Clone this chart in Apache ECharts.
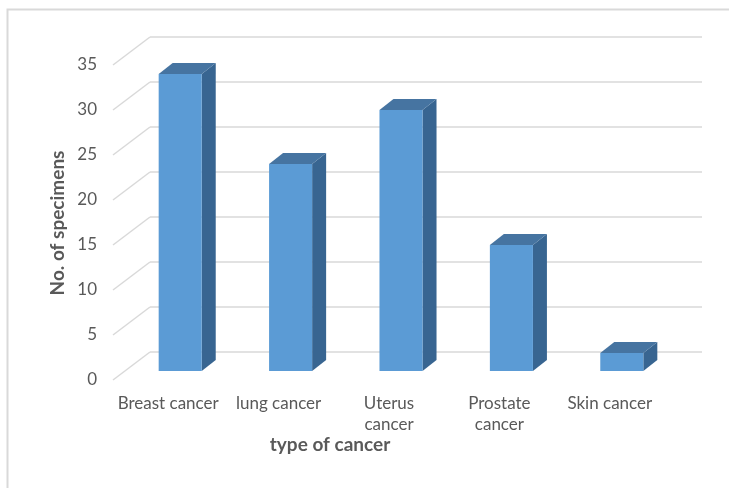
<!DOCTYPE html>
<html>
<head>
<meta charset="utf-8">
<script src="https://cdn.jsdelivr.net/npm/echarts@6/dist/echarts.min.js"></script>
<style>
  html, body { margin: 0; padding: 0; background: #ffffff; }
  #chart { width: 729px; height: 488px; }
</style>
</head>
<body>
<div id="chart"></div>
<script>
// Specimens collected per cancer type
const categories = ['Breast cancer', 'lung cancer', 'Uterus cancer', 'Prostate cancer', 'Skin cancer'];
const specimens = [33, 23, 29, 14, 2];
const yTicks = [0, 5, 10, 15, 20, 25, 30, 35];

// Pseudo-3D geometry (pixels): bars sit a third of the way into the floor depth
const FRONT_TO_BAR = [12, -9];   // front plane -> bar front face
const BAR_TO_BACK = [25, -19];   // bar front face -> back wall
const BAR_DEPTH = [14, -11];     // bar thickness seen in perspective

const FACE = '#5b9bd5', TOP = '#4674a1', SIDE = '#386591';
const GRID_COLOR = '#d9d9d9';
const TEXT = '#595959';
const FONT = 'Lato, "Open Sans", sans-serif';

// Labels spelled over two lines where they wrap under the bar
const wrapped = { 'Uterus cancer': 'Uterus\ncancer', 'Prostate cancer': 'Prostate\ncancer' };

const chart = echarts.init(document.getElementById('chart'), null, { renderer: 'canvas' });

function gridWalls(params, api) {
  const cs = params.coordSys;
  const y = api.coord([0, api.value(1)])[1];
  const x0 = cs.x, x1 = cs.x + cs.width;
  const style = { stroke: GRID_COLOR, lineWidth: 1.5, fill: null };
  return {
    type: 'group',
    children: [
      { type: 'line', shape: { x1: x0 - FRONT_TO_BAR[0], y1: y - FRONT_TO_BAR[1], x2: x0 + BAR_TO_BACK[0], y2: y + BAR_TO_BACK[1] }, style: style },
      { type: 'line', shape: { x1: x0 + BAR_TO_BACK[0], y1: y + BAR_TO_BACK[1], x2: x1 + BAR_TO_BACK[0], y2: y + BAR_TO_BACK[1] }, style: style }
    ]
  };
}

function bar3d(params, api) {
  const idx = api.value(0);
  const top = api.coord([idx, api.value(1)]);
  const base = api.coord([idx, 0]);
  const w = api.size([1, 0])[0] * 0.39;
  const xl = top[0] - w / 2, xr = top[0] + w / 2;
  const yt = top[1], yb = base[1];
  const dx = BAR_DEPTH[0], dy = BAR_DEPTH[1];
  return {
    type: 'group',
    children: [
      { type: 'polygon', shape: { points: [[xr, yt], [xr + dx, yt + dy], [xr + dx, yb + dy], [xr, yb]] }, style: { fill: SIDE } },
      { type: 'polygon', shape: { points: [[xl, yt], [xl + dx, yt + dy], [xr + dx, yt + dy], [xr, yt]] }, style: { fill: TOP } },
      { type: 'rect', shape: { x: xl, y: yt, width: w, height: yb - yt }, style: { fill: FACE } }
    ]
  };
}

chart.setOption({
  animation: false,
  backgroundColor: '#ffffff',
  grid: [
    // plane of the bars' front faces
    { left: 125, top: 56, width: 552, height: 315 },
    // front edge of the floor, where the axis labels sit
    { left: 113, top: 65, width: 552, height: 315 }
  ],
  xAxis: [
    { type: 'category', data: categories, gridIndex: 0, show: false },
    {
      type: 'category', data: categories, gridIndex: 1,
      axisLine: { show: false }, axisTick: { show: false },
      axisLabel: {
        interval: 0, margin: 13, color: TEXT, fontFamily: FONT, fontSize: 17, lineHeight: 21,
        formatter: function (v) { return wrapped[v] || v; }
      }
    }
  ],
  yAxis: [
    { type: 'value', gridIndex: 0, min: 0, max: 35, interval: 5, show: false },
    {
      type: 'value', gridIndex: 1, min: 0, max: 35, interval: 5,
      axisLine: { show: false }, axisTick: { show: false }, splitLine: { show: false },
      axisLabel: { margin: 16, color: TEXT, fontFamily: FONT, fontSize: 17 }
    }
  ],
  series: [
    {
      type: 'custom', xAxisIndex: 0, yAxisIndex: 0, z: 1,
      renderItem: gridWalls,
      data: yTicks.map(function (v) { return [0, v]; })
    },
    {
      type: 'custom', xAxisIndex: 0, yAxisIndex: 0, z: 2,
      renderItem: bar3d,
      data: specimens.map(function (v, i) { return [i, v]; })
    }
  ],
  graphic: [
    {
      type: 'rect', z: -1, silent: true,
      shape: { x: 7.5, y: 9.5, width: 740, height: 500 },
      style: { fill: null, stroke: GRID_COLOR, lineWidth: 2 }
    },
    {
      type: 'text', x: 330, y: 445,
      style: { text: 'type of cancer', fill: TEXT, font: 'bold 19px ' + FONT, align: 'center', verticalAlign: 'middle' }
    },
    {
      type: 'text', x: 58, y: 223, rotation: Math.PI / 2,
      style: { text: 'No. of specimens', fill: TEXT, font: 'bold 19px ' + FONT, align: 'center', verticalAlign: 'middle' }
    }
  ]
});
</script>
</body>
</html>
